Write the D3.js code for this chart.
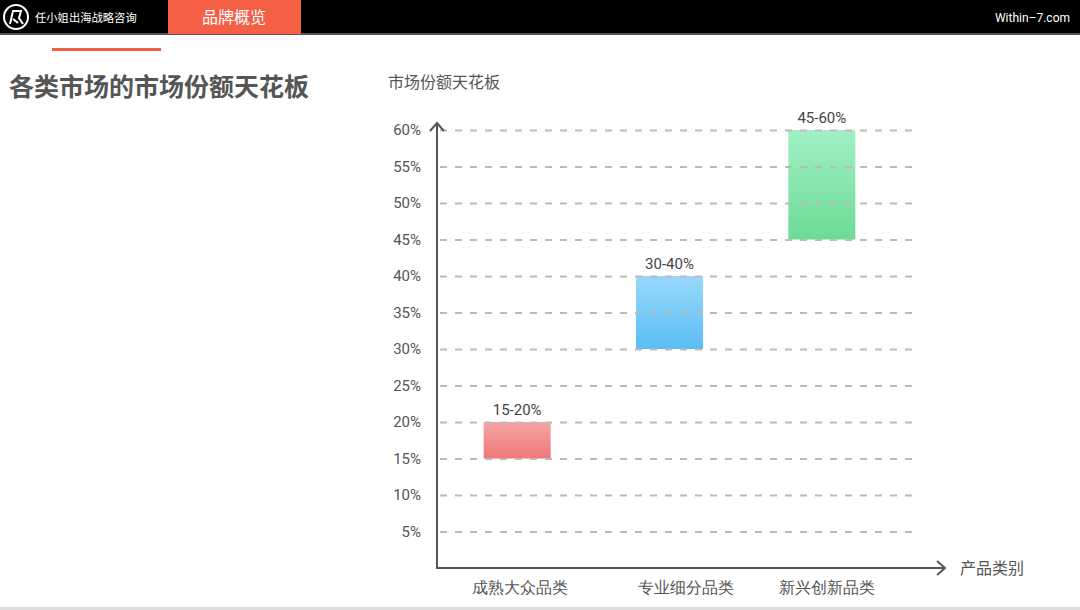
<!DOCTYPE html>
<html><head><meta charset="utf-8">
<script src="https://cdn.jsdelivr.net/npm/d3@7/dist/d3.min.js"></script>
<style>body{margin:0;background:#fff;}svg{display:block;font-family:"Noto Sans CJK SC","Noto Sans",sans-serif;}</style>
</head><body><svg id="c" width="1080" height="610"></svg>
<script>
const categories = ["成熟大众品类", "专业细分品类", "新兴创新品类"];
const lowValues = [15, 30, 45];
const highValues = [20, 40, 60];
const rangeLabels = ["15-20%", "30-40%", "45-60%"];
const yTicks = [5, 10, 15, 20, 25, 30, 35, 40, 45, 50, 55, 60];
const barColors = [["#f5a5a5", "#ee7878"], ["#98d9fb", "#5bbdf6"], ["#a3f0c6", "#6cdb95"]];

const svg = d3.select("#c");
// header
svg.append("rect").attr("x",0).attr("y",0).attr("width",1080).attr("height",34).attr("fill","#000");
svg.append("rect").attr("x",0).attr("y",33).attr("width",1080).attr("height",2).attr("fill","#555");
svg.append("rect").attr("x",168).attr("y",0).attr("width",133).attr("height",34).attr("fill","#f55f45");
svg.append("text").attr("x",234).attr("y",23).attr("text-anchor","middle").attr("fill","#fff").attr("font-size",16).text("品牌概览");
svg.append("circle").attr("cx",16).attr("cy",17).attr("r",12).attr("fill","none").attr("stroke","#fff").attr("stroke-width",2);
svg.append("path").attr("d","M10,24 L13,11 L21,11 L19,18 L23,24 M13,19 L18,23").attr("fill","none").attr("stroke","#fff").attr("stroke-width",2);
svg.append("text").attr("x",35).attr("y",22).attr("fill","#fff").attr("font-size",11.3).text("任小姐出海战略咨询");
svg.append("text").attr("x",1070).attr("y",22).attr("text-anchor","end").attr("fill","#fff").attr("font-size",12).attr("font-family","Roboto, sans-serif").text("Within–7.com");
svg.append("rect").attr("x",52).attr("y",48).attr("width",109).attr("height",3).attr("fill","#f55f45");
svg.append("text").attr("x",9).attr("y",96).attr("fill","#555").attr("font-size",25).attr("font-weight","bold").text("各类市场的市场份额天花板");
svg.append("rect").attr("x",0).attr("y",607).attr("width",1080).attr("height",3).attr("fill","#ddd");

// chart
const x0 = 437, y0 = 568;
const y = d3.scaleLinear().domain([0, 60]).range([y0, 130]);
const x = d3.scaleBand().domain(categories).range([441, 898]).paddingInner(0.56).paddingOuter(0.28);

const defs = svg.append("defs");
barColors.forEach((c, i) => {
  const g = defs.append("linearGradient").attr("id","g"+i).attr("x1",0).attr("y1",0).attr("x2",0).attr("y2",1);
  g.append("stop").attr("offset","0%").attr("stop-color",c[0]);
  g.append("stop").attr("offset","100%").attr("stop-color",c[1]);
});

const data = categories.map((c, i) => ({c, lo: lowValues[i], hi: highValues[i], label: rangeLabels[i], i}));

svg.append("g").selectAll("rect").data(data).join("rect")
  .attr("x", d => x(d.c)).attr("width", x.bandwidth())
  .attr("y", d => y(d.hi)).attr("height", d => y(d.lo) - y(d.hi))
  .attr("fill", d => `url(#g${d.i})`);

// grid
const grid = svg.append("g").attr("transform",`translate(912,0)`)
  .call(d3.axisLeft(y).tickValues(yTicks).tickSize(912 - 440).tickFormat(""));
grid.select(".domain").remove();
grid.selectAll("line").attr("stroke","#bbb").attr("stroke-width",2).attr("stroke-dasharray","7,8");

// y axis labels
const yAx = svg.append("g").attr("transform",`translate(${x0},0)`)
  .call(d3.axisLeft(y).tickValues(yTicks).tickSize(0).tickPadding(16).tickFormat(d => d + "%"));
yAx.select(".domain").remove();
yAx.selectAll("text").attr("fill","#555").attr("font-size",15).attr("font-family","Roboto, sans-serif");

// x axis labels
const xAx = svg.append("g").attr("transform",`translate(0,${y0})`)
  .call(d3.axisBottom(x).tickSize(0).tickPadding(11));
xAx.select(".domain").remove();
xAx.selectAll("text").attr("fill","#555").attr("font-size",16).attr("dy","0.9em").attr("dx", (d, i) => [3, 16, 5][i]);

// axes lines with arrows
svg.append("path").attr("d",`M${x0},123 L${x0},${y0} L945,${y0}`).attr("fill","none").attr("stroke","#555").attr("stroke-width",2);
svg.append("path").attr("d",`M${x0-7},131 L${x0},123 L${x0+7},131`).attr("fill","none").attr("stroke","#555").attr("stroke-width",2);
svg.append("path").attr("d",`M937,${y0-7} L945,${y0} L937,${y0+7}`).attr("fill","none").attr("stroke","#555").attr("stroke-width",2);
svg.append("text").attr("x",388).attr("y",88).attr("fill","#555").attr("font-size",16).text("市场份额天花板");
svg.append("text").attr("x",960).attr("y",574).attr("fill","#555").attr("font-size",16).text("产品类别");

// value labels
svg.append("g").selectAll("text").data(data).join("text")
  .attr("x", d => x(d.c) + x.bandwidth()/2).attr("y", d => y(d.hi) - 7)
  .attr("text-anchor","middle").attr("fill","#444").attr("font-size",15).attr("font-family","Roboto, sans-serif")
  .text(d => d.label);
</script></body></html>
